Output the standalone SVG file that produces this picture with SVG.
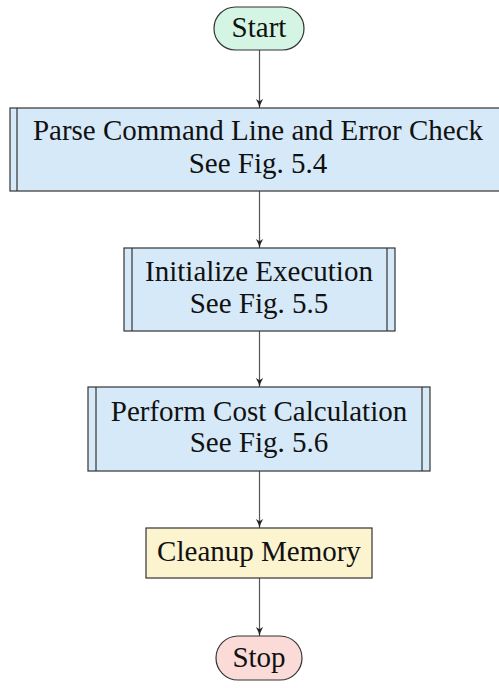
<svg xmlns="http://www.w3.org/2000/svg" width="499" height="688" viewBox="0 0 499 688">
<style>
  text { font-family: 'Liberation Serif', 'DejaVu Serif', 'Times New Roman', serif; font-size: 29px; fill: #111; text-anchor: middle; }
  .box { stroke: #333; stroke-width: 1.2; }
  .sub { fill: #d6e9f8; }
  .start { fill: #d4f5e3; }
  .stop { fill: #fadbd8; }
  .proc { fill: #fcf3cf; }
  .edge { stroke: #555; stroke-width: 1.2; fill: none; marker-end: url(#arr); }
</style>
<defs>
  <marker id="arr" viewBox="0 0 10 10" refX="10" refY="5" markerWidth="9" markerHeight="9" markerUnits="userSpaceOnUse" orient="auto">
    <path d="M0,1 Q5,4 10,5 Q5,6 0,9 L2.5,5 Z" fill="#222"/>
  </marker>
</defs>
<rect width="499" height="688" fill="#fff"/>
<g id="connectors">
  <line class="edge" x1="259.5" y1="50" x2="259.5" y2="108"/>
  <line class="edge" x1="259.5" y1="191" x2="259.5" y2="248"/>
  <line class="edge" x1="259.5" y1="331" x2="259.5" y2="387"/>
  <line class="edge" x1="259.5" y1="471" x2="259.5" y2="528"/>
  <line class="edge" x1="259.5" y1="578" x2="259.5" y2="636"/>
</g>
<g id="start">
  <rect class="box start" x="214" y="7" width="90" height="43" rx="21.5"/>
  <text x="259" y="37">Start</text>
</g>
<g id="parse">
  <rect class="box sub" x="10" y="108" width="500" height="83"/>
  <line class="box" x1="17" y1="108" x2="17" y2="191"/>
  <line class="box" x1="503" y1="108" x2="503" y2="191"/>
  <text x="258" y="140">Parse Command Line and Error Check</text>
  <text x="258" y="173">See Fig. 5.4</text>
</g>
<g id="init">
  <rect class="box sub" x="124" y="248" width="271" height="83"/>
  <line class="box" x1="132" y1="248" x2="132" y2="331"/>
  <line class="box" x1="387" y1="248" x2="387" y2="331"/>
  <text x="259" y="281">Initialize Execution</text>
  <text x="259" y="313">See Fig. 5.5</text>
</g>
<g id="perform">
  <rect class="box sub" x="88" y="387" width="342" height="84"/>
  <line class="box" x1="96" y1="387" x2="96" y2="471"/>
  <line class="box" x1="422" y1="387" x2="422" y2="471"/>
  <text x="259" y="421">Perform Cost Calculation</text>
  <text x="259" y="452">See Fig. 5.6</text>
</g>
<g id="cleanup">
  <rect class="box proc" x="146" y="528" width="226" height="50"/>
  <text x="259" y="561">Cleanup Memory</text>
</g>
<g id="stop">
  <rect class="box stop" x="216" y="636" width="86" height="44" rx="22"/>
  <text x="259" y="667">Stop</text>
</g>
</svg>
